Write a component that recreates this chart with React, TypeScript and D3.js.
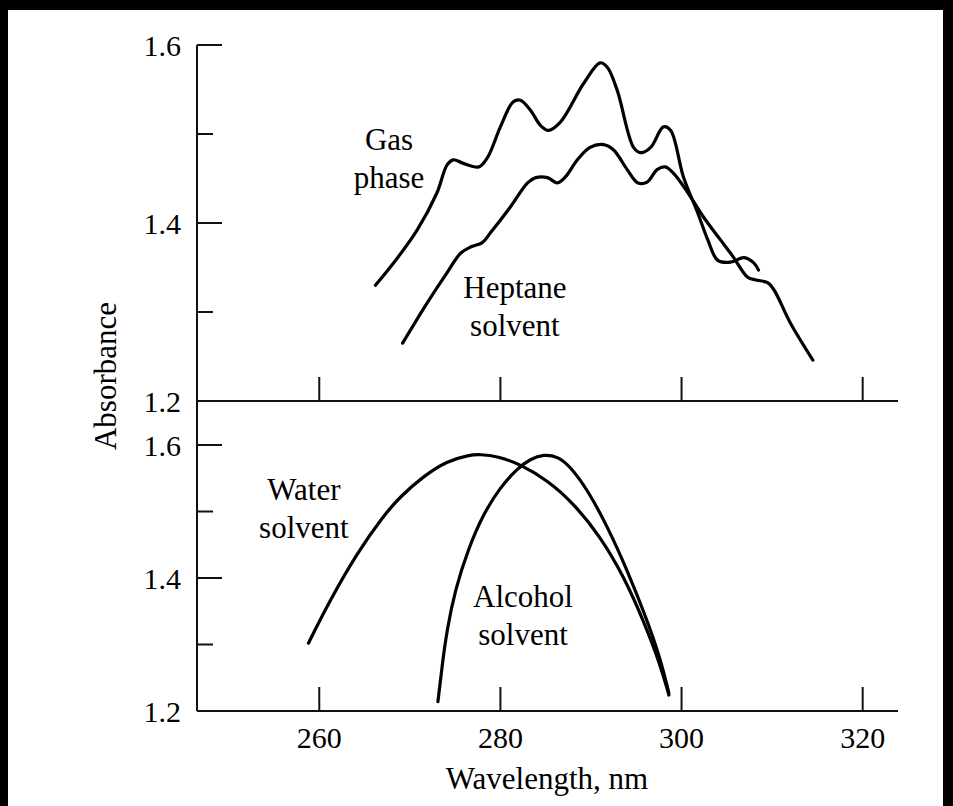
import React from "react";
import * as d3 from "d3";

// Absorption spectra: upper panel (gas phase vs heptane), lower panel (water vs alcohol)
const gasPhase: [number, number][] = [
  [266.2, 1.330], [268.2, 1.355], [270.8, 1.392], [273.0, 1.434], [274.1, 1.465],
  [274.8, 1.471], [275.9, 1.467], [277.6, 1.463], [278.6, 1.474], [280.0, 1.508],
  [281.4, 1.536], [282.2, 1.538], [283.3, 1.527], [284.4, 1.510], [285.3, 1.504],
  [286.6, 1.513], [289.2, 1.557], [291.0, 1.580], [291.8, 1.575], [292.9, 1.549],
  [294.7, 1.485], [295.5, 1.479], [296.6, 1.485], [298.0, 1.508], [298.8, 1.504],
  [300.2, 1.452], [301.8, 1.411], [302.9, 1.381], [304.0, 1.358], [305.4, 1.356],
  [306.9, 1.361], [308.0, 1.355], [308.5, 1.347],
];

const heptane: [number, number][] = [
  [269.2, 1.265], [271.9, 1.310], [274.1, 1.344], [275.6, 1.366], [276.7, 1.373],
  [278.0, 1.378], [278.9, 1.389], [281.1, 1.418], [283.0, 1.445], [283.9, 1.451],
  [285.2, 1.451], [286.3, 1.445], [287.2, 1.452], [288.5, 1.471], [289.9, 1.485],
  [291.4, 1.488], [292.5, 1.482], [294.0, 1.460], [295.2, 1.445], [296.2, 1.446],
  [297.3, 1.460], [298.2, 1.463], [299.1, 1.456], [300.7, 1.434], [302.4, 1.407],
  [304.3, 1.381], [305.7, 1.362], [307.3, 1.339], [308.2, 1.336], [309.5, 1.333],
  [310.2, 1.325], [312.0, 1.288], [314.5, 1.246],
];

const water: [number, number][] = [
  [258.8, 1.302], [261.2, 1.367], [264.2, 1.438], [267.0, 1.492], [268.9, 1.522],
  [271.5, 1.553], [274.1, 1.576], [276.6, 1.585], [277.7, 1.586], [279.7, 1.583],
  [282.2, 1.571], [285.2, 1.547], [288.1, 1.512], [291.0, 1.463], [293.6, 1.403],
  [295.8, 1.336], [297.7, 1.268], [298.6, 1.224],
];

const alcohol: [number, number][] = [
  [273.1, 1.214], [273.6, 1.272], [274.1, 1.322], [275.0, 1.382], [276.4, 1.442],
  [278.1, 1.496], [280.0, 1.537], [281.9, 1.565], [283.3, 1.579], [284.8, 1.586],
  [286.3, 1.583], [287.7, 1.568], [289.6, 1.533], [291.8, 1.478], [294.0, 1.412],
  [296.2, 1.337], [297.7, 1.277], [298.6, 1.227],
];

const xTicks = [260, 280, 300, 320];
const yMajorTicks = [1.2, 1.4, 1.6];
const yMinorTicks = [1.3, 1.5];
const xDomain: [number, number] = [246.5, 323.9];
const yDomain: [number, number] = [1.2, 1.6];

const topLabels = [
  { lines: ["Gas", "phase"], wl: 267.7, abs: 1.482 },
  { lines: ["Heptane", "solvent"], wl: 281.6, abs: 1.316 },
];
const bottomLabels = [
  { lines: ["Water", "solvent"], wl: 258.3, abs: 1.517 },
  { lines: ["Alcohol", "solvent"], wl: 282.5, abs: 1.357 },
];

const W = 953;
const H = 806;
const FONT = "'Liberation Serif', 'Times New Roman', serif";

export default function App() {
  const x = d3.scaleLinear().domain(xDomain).range([197, 898]);
  const yTop = d3.scaleLinear().domain(yDomain).range([401, 45]);
  const yBot = d3.scaleLinear().domain(yDomain).range([711, 445]);

  const lineTop = d3
    .line<[number, number]>()
    .x((d) => x(d[0]))
    .y((d) => yTop(d[1]))
    .curve(d3.curveCatmullRom.alpha(0.5));
  const lineBot = d3
    .line<[number, number]>()
    .x((d) => x(d[0]))
    .y((d) => yBot(d[1]))
    .curve(d3.curveBasis);

  const axisX = x(xDomain[0]);
  const curveStyle = { fill: "none", stroke: "#000", strokeWidth: 3.2, strokeLinecap: "round" as const };

  const panelAxes = (y: d3.ScaleLinear<number, number>, key: string) => (
    <g key={key} stroke="#111" strokeWidth={2}>
      <line x1={axisX} x2={x(xDomain[1])} y1={y(1.2)} y2={y(1.2)} />
      {xTicks.map((t) => (
        <line key={t} x1={x(t)} x2={x(t)} y1={y(1.2)} y2={y(1.2) - 24} />
      ))}
      {yMajorTicks.filter((t) => t > 1.2).map((t) => (
        <line key={t} x1={axisX} x2={axisX + 25} y1={y(t)} y2={y(t)} />
      ))}
      {yMinorTicks.map((t) => (
        <line key={t} x1={axisX} x2={axisX + 16} y1={y(t)} y2={y(t)} />
      ))}
    </g>
  );

  const yLabels = (y: d3.ScaleLinear<number, number>, key: string) => (
    <g key={key}>
      {yMajorTicks.map((t) => (
        <text key={t} x={axisX - 16} y={y(t)} dy="0.35em" textAnchor="end" fontSize={30}>
          {t.toFixed(1)}
        </text>
      ))}
    </g>
  );

  const annotations = (
    labels: { lines: string[]; wl: number; abs: number }[],
    y: d3.ScaleLinear<number, number>
  ) =>
    labels.map((l, i) => (
      <text key={i} x={x(l.wl)} y={y(l.abs)} textAnchor="middle" fontSize={31}>
        {l.lines.map((s, j) => (
          <tspan key={j} x={x(l.wl)} dy={j === 0 ? 0 : 38}>
            {s}
          </tspan>
        ))}
      </text>
    ));

  return (
    <svg
      width={W}
      height={H}
      style={{ position: "absolute", left: 0, top: 0, background: "#fff" }}
      fontFamily={FONT}
    >
      <rect x={0} y={0} width={W} height={H} fill="#fff" />
      {/* scan frame */}
      <rect x={0} y={0} width={W} height={10} fill="#000" />
      <rect x={0} y={0} width={8} height={H} fill="#000" />
      <rect x={W - 10} y={0} width={10} height={H} fill="#000" />

      {/* shared vertical axis */}
      <line x1={axisX} x2={axisX} y1={yTop(1.6)} y2={yBot(1.2)} stroke="#111" strokeWidth={2} />
      {panelAxes(yTop, "top")}
      {panelAxes(yBot, "bot")}
      {yLabels(yTop, "ltop")}
      {yLabels(yBot, "lbot")}

      {xTicks.map((t) => (
        <text key={t} x={x(t)} y={748} textAnchor="middle" fontSize={30}>
          {t}
        </text>
      ))}

      <path d={lineTop(gasPhase) ?? ""} {...curveStyle} />
      <path d={lineTop(heptane) ?? ""} {...curveStyle} />
      <path d={lineBot(water) ?? ""} {...curveStyle} />
      <path d={lineBot(alcohol) ?? ""} {...curveStyle} />

      {annotations(topLabels, yTop)}
      {annotations(bottomLabels, yBot)}

      <text
        transform={`translate(116, 376) rotate(-90)`}
        textAnchor="middle"
        fontSize={31}
      >
        Absorbance
      </text>
      <text x={547} y={789} textAnchor="middle" fontSize={31}>
        Wavelength, nm
      </text>
    </svg>
  );
}
